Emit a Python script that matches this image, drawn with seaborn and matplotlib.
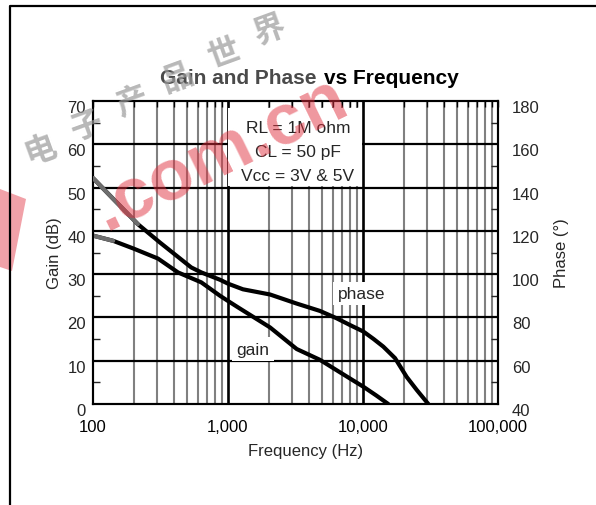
import numpy as np
import pandas as pd
import matplotlib
matplotlib.use("Agg")
import matplotlib.pyplot as plt
import matplotlib.transforms as mtransforms
from matplotlib.lines import Line2D
from matplotlib.patches import Rectangle, Polygon
import seaborn as sns

# ---------------- data ----------------
freq_gain = [100, 141, 200, 303, 426, 634, 873, 1000, 1190, 2047, 3228, 4800, 6380, 8000, 10050, 12500, 15380]
gain_db = [38.9, 37.7, 35.9, 33.6, 30.4, 28.1, 25.0, 23.8, 22.3, 17.7, 12.7, 10.2, 7.8, 5.9, 4.0, 2.0, 0.0]

freq_phase = [100, 140, 215, 312, 534, 634, 873, 1000, 1290, 2047, 3228, 4800, 6380, 8000, 10050, 12000, 14140, 17260, 21070, 25000, 30460]
phase_deg = [144.4, 135.0, 123.1, 114.7, 103.1, 100.8, 97.4, 95.6, 93.0, 90.6, 86.4, 83.0, 79.6, 76.5, 73.5, 70.0, 66.5, 61.2, 52.5, 46.5, 40.0]

xtick_vals = [100, 1000, 10000, 100000]
xtick_labels = ["100", "1,000", "10,000", "100,000"]
gain_ticks = [0, 10, 20, 30, 40, 50, 60, 70]
phase_ticks = [40, 60, 80, 100, 120, 140, 160, 180]
cond_lines = ["RL = 1M ohm", "CL = 50 pF", "Vcc = 3V & 5V"]

gain_df = pd.DataFrame({"freq": freq_gain, "gain": gain_db})
phase_df = pd.DataFrame({"freq": freq_phase, "phase": phase_deg})

# ---------------- style ----------------
sns.set_style("white")
plt.rcParams["font.family"] = ["Liberation Sans", "DejaVu Sans"]
plt.rcParams["axes.linewidth"] = 1.5

W, H = 596, 506
fig = plt.figure(figsize=(W / 100, H / 100), dpi=100)
L, R, T, B = 93, 498, 102, 405
ax = fig.add_axes([L / W, 1 - B / H, (R - L) / W, (B - T) / H])
ax.set_xscale("log")
ax.set_xlim(100, 100000)
ax.set_ylim(0, 70)

# grid lines (manual so the condition box can hide them)
minor_x = [m * d for d in (100, 1000, 10000) for m in range(2, 10)]
for xv in minor_x:
    ax.axvline(xv, color="#808080", lw=1.5, zorder=1)
for xv in (1000, 10000):
    ax.axvline(xv, color="black", lw=1.9, zorder=1.05)
for yv in range(10, 70, 10):
    ax.axhline(yv, color="black", lw=1.6, zorder=1.05)

# condition box
ax.add_patch(Rectangle((1000, 50.3), 9800 - 1000, 68.3 - 50.3, facecolor="white",
                       edgecolor="none", zorder=1.2))
ax.text(3300, 63.8, cond_lines[0], ha="center", va="center", fontsize=12.5, zorder=1.3)
ax.text(3300, 58.3, cond_lines[1], ha="center", va="center", fontsize=12.5, zorder=1.3)
ax.text(3300, 52.7, cond_lines[2], ha="center", va="center", fontsize=12.5, zorder=1.3)

# curve labels
ax.text(1530, 12.7, "gain", ha="center", va="center", fontsize=12.5, zorder=1.3,
        bbox=dict(facecolor="white", edgecolor="none", pad=3))
ax.text(9700, 25.6, "phase", ha="center", va="center", fontsize=12.5, zorder=1.3,
        bbox=dict(facecolor="white", edgecolor="none", pad=3))

# gain curve
sns.lineplot(data=gain_df, x="freq", y="gain", ax=ax, color="black", lw=3.0, zorder=3)
sns.lineplot(data=gain_df.iloc[:2], x="freq", y="gain", ax=ax, color="#6e6e6e", lw=3.0, zorder=3.1)

ax.set_axisbelow(False)
ax.set_xticks(xtick_vals)
ax.set_xticklabels(xtick_labels)
ax.xaxis.set_minor_locator(matplotlib.ticker.FixedLocator(minor_x))
ax.xaxis.set_minor_formatter(matplotlib.ticker.NullFormatter())
ax.tick_params(axis="x", which="both", direction="in", top=True, bottom=False, length=4,
               width=1, labelsize=12, pad=11, colors="black")
ax.set_yticks(gain_ticks)
ax.set_yticks([5, 15, 25, 35, 45, 55, 65], minor=True)
ax.tick_params(axis="y", which="major", length=0, labelsize=12, pad=5)
ax.tick_params(axis="y", which="minor", direction="in", length=5, width=1, left=True)
ax.set_xlabel("Frequency (Hz)", fontsize=12, labelpad=6, x=0.526)
ax.set_ylabel("Gain (dB)", fontsize=12, labelpad=4)

# phase axis
ax2 = ax.twinx()
ax2.set_ylim(40, 180)
sns.lineplot(data=phase_df, x="freq", y="phase", ax=ax2, color="black", lw=3.0, zorder=3)
sns.lineplot(data=phase_df.iloc[:3], x="freq", y="phase", ax=ax2, color="#6e6e6e", lw=3.0, zorder=3.1)
ax2.set_xlim(100, 100000)
ax2.set_yticks(phase_ticks)
ax2.set_yticks([50, 70, 90, 110, 130, 150, 170], minor=True)
ax2.tick_params(axis="y", which="major", length=0, labelsize=12, pad=10)
ax2.tick_params(axis="y", which="minor", direction="in", length=5, width=1, right=True)
ax2.set_ylabel("Phase (°)", fontsize=12, labelpad=10)
ax2.set_xlabel("")
for a in (ax, ax2):
    for s in a.spines.values():
        s.set_color("black")
        s.set_linewidth(1.5)

# shift y tick labels slightly down, as in the reference
off = mtransforms.ScaledTranslation(0, -5 / 100, fig.dpi_scale_trans)
for lab in ax.get_yticklabels() + ax2.get_yticklabels():
    lab.set_transform(lab.get_transform() + off)

# title
fig.text(317 / W, 1 - 78 / H, "Gain and Phase", ha="right", va="center", fontsize=15,
         fontweight="bold", color="#4a4a4a")
fig.text(324 / W, 1 - 78 / H, "vs Frequency", ha="left", va="center", fontsize=15,
         fontweight="bold", color="black")

# figure frame lines (top and left)
fig.add_artist(Line2D([10 / W, 10 / W, 1.0], [0.0, 1 - 7 / H, 1 - 7 / H],
                      transform=fig.transFigure, color="black", lw=1.6))

# watermark
wm_chars = "电子产品世界"
x0, y0, x1, y1 = 40, 150, 270, 30
for i, ch in enumerate(wm_chars):
    t = i / (len(wm_chars) - 1)
    fig.text((x0 + t * (x1 - x0)) / W, 1 - (y0 + t * (y1 - y0)) / H, ch,
             family=["Noto Sans CJK SC"], fontweight="bold", fontsize=23,
             color="#9a9a9a", alpha=0.7, rotation=20, ha="center", va="center")
fig.text(220 / W, 1 - 155 / H, ".com.cn", fontsize=52, fontweight="bold",
         color="#e0303e", alpha=0.5, rotation=26, ha="center", va="center")
fig.add_artist(Polygon([(0, 1 - 190 / H), (26 / W, 1 - 200 / H), (12 / W, 1 - 272 / H),
                        (0, 1 - 268 / H)], closed=True, transform=fig.transFigure,
                       facecolor="#e0303e", alpha=0.45, edgecolor="none"))

fig.savefig("out.png", dpi=100)
